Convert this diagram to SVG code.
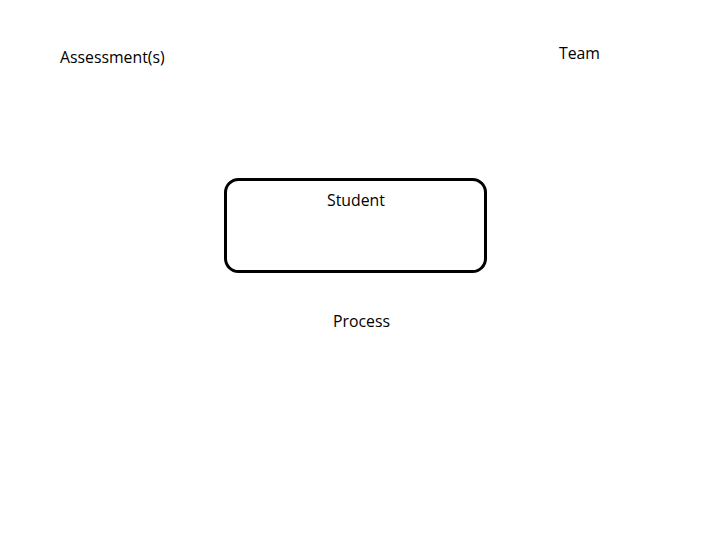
<svg xmlns="http://www.w3.org/2000/svg" width="720" height="540" viewBox="0 0 720 540">
<style>
text{font-family:"Open Sans","Liberation Sans",sans-serif;font-size:15.8px;fill:#000}
.box{fill:#fff;stroke:#000;stroke-width:3}
</style>
<rect width="720" height="540" fill="#fff"/>
<g id="assessment"><text x="60" y="63">Assessment(s)</text></g>
<g id="team"><text x="559" y="59">Team</text></g>
<g id="student"><rect class="box" x="225.5" y="179.5" width="260" height="92" rx="13" ry="13"/><text x="327" y="206">Student</text></g>
<g id="process"><text x="333" y="327">Process</text></g>
<g id="connectors"></g>
</svg>
